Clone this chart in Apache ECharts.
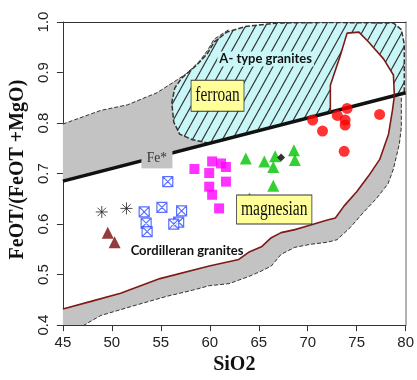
<!DOCTYPE html>
<html>
<head>
<meta charset="utf-8">
<script src="https://cdn.jsdelivr.net/npm/echarts@6/dist/echarts.min.js"></script>
<style>
  html, body { margin: 0; padding: 0; background: #fff; }
  #chart { width: 417px; height: 380px; }
</style>
</head>
<body>
<div id="chart"></div>
<script>
// ---- axes ----
const xTicks = [45, 50, 55, 60, 65, 70, 75, 80];
const yTicks = [0.4, 0.5, 0.6, 0.7, 0.8, 0.9, 1.0];

// ---- field boundaries (SiO2, Fe*) ----
// ferroan / magnesian dividing line
const feStarLine = [[45, 0.685], [80, 0.86]];

// upper edge of the grey band above the Fe* line
const upperBandTop = [[45, 0.798], [48.87, 0.825], [51.59, 0.836], [54.61, 0.860], [56.62, 0.885],
  [57.63, 0.898], [58.93, 0.922], [59.74, 0.943], [60.44, 0.966], [61.95, 0.985]];
const upperBandBase = [[62.5, 0.772], [45, 0.685]];

// A-type granite field
const aTypeField = [[59.94, 0.760], [58.23, 0.767], [56.92, 0.778], [56.32, 0.802], [56.12, 0.840],
  [56.42, 0.869], [57.12, 0.889], [58.63, 0.914], [59.74, 0.937], [60.44, 0.960], [61.74, 0.980],
  [63.66, 0.991], [66.98, 0.998], [72.0, 0.999], [78.75, 0.998], [79.56, 0.985], [79.86, 0.956],
  [79.86, 0.875], [79.86, 0.859], [59.94, 0.760]];

// Cordilleran granite boundary: lower limb and the part above the Fe* line
const cordLower = [[45, 0.432], [47.87, 0.447], [50.89, 0.463], [54.91, 0.492], [59.94, 0.517],
  [62.96, 0.530], [63.96, 0.544], [65.27, 0.555], [66.28, 0.573], [67.28, 0.583], [68.69, 0.589],
  [70.30, 0.598], [72.01, 0.608], [72.82, 0.612], [73.72, 0.636], [75.0, 0.664], [76.2, 0.695],
  [77.35, 0.728], [78.25, 0.778], [78.65, 0.825], [78.85, 0.854]];
const cordUpper = [[78.85, 0.854], [78.75, 0.895], [77.74, 0.927], [76.24, 0.960], [75.23, 0.980],
  [74.02, 0.978], [73.32, 0.933], [72.31, 0.875], [72.31, 0.822]];

// outer (dashed) edge of the grey band below the Cordilleran boundary
const lowerBandEdge = [[79.56, 0.850], [79.56, 0.792], [79.36, 0.759], [78.75, 0.709], [78.2, 0.680],
  [77.04, 0.651], [75.73, 0.624], [74.33, 0.593], [73.0, 0.569], [72.0, 0.564], [70.3, 0.560],
  [68.69, 0.554], [67.28, 0.540], [66.28, 0.517], [65.27, 0.507], [63.96, 0.496], [61.95, 0.482],
  [59.94, 0.478], [58.23, 0.469], [55.61, 0.457], [52.19, 0.438], [48.87, 0.419], [47.16, 0.400]];

// ---- samples (SiO2, Fe*) ----
const redCircles = [[70.50, 0.806], [71.51, 0.784], [73.02, 0.815], [74.02, 0.829], [73.82, 0.806],
  [73.82, 0.796], [73.72, 0.744], [77.34, 0.817]];
const greenTriangles = [[63.68, 0.730], [65.57, 0.724], [66.68, 0.734], [66.48, 0.713], [68.59, 0.746],
  [68.69, 0.727], [66.48, 0.676], [64.06, 0.651]];
const blackDiamonds = [[67.28, 0.732]];
const magentaSquares = [[60.24, 0.724], [61.15, 0.720], [61.65, 0.713], [58.43, 0.709], [59.94, 0.701],
  [61.65, 0.684], [59.94, 0.674], [60.24, 0.658], [60.95, 0.631]];
const blueCrossedSquares = [[55.71, 0.684], [55.11, 0.633], [57.12, 0.626], [53.30, 0.624], [53.50, 0.602],
  [53.60, 0.585], [56.82, 0.604], [56.32, 0.600]];
const asterisks = [[48.97, 0.624], [51.49, 0.631]];
const maroonTriangles = [[49.58, 0.583], [50.28, 0.564]];

// ---- hatch pattern for the A-type field ----
function makeHatch() {
  const w = 10, h = 18;
  const c = document.createElement('canvas');
  c.width = w; c.height = h;
  const g = c.getContext('2d');
  g.fillStyle = '#c9f7f7';
  g.fillRect(0, 0, w, h);
  g.strokeStyle = '#333';
  g.lineWidth = 1.1;
  for (let k = -1; k <= 1; k++) {
    g.beginPath();
    g.moveTo(k * w - w, 2 * h);
    g.lineTo(k * w + 2 * w, -h);
    g.stroke();
  }
  return c;
}
const hatch = { image: makeHatch(), repeat: 'repeat' };

function polygonSeries(points, style, z) {
  return {
    type: 'custom', coordinateSystem: 'cartesian2d', silent: true, clip: true, z: z,
    data: points,
    renderItem: function (params, api) {
      if (params.dataIndex !== 0) return null;
      return { type: 'polygon', shape: { points: points.map(p => api.coord(p)) }, style: style };
    }
  };
}

function lineSeries(points, lineStyle, z) {
  return {
    type: 'line', data: points, symbol: 'none', silent: true, z: z, animation: false,
    lineStyle: lineStyle
  };
}

function scatterSeries(points, symbol, size, itemStyle) {
  return { type: 'scatter', data: points, symbol: symbol, symbolSize: size, z: 10, silent: true, itemStyle: itemStyle };
}

function textSeries(anchor, text, style, scaleX) {
  return {
    type: 'custom', coordinateSystem: 'cartesian2d', silent: true, clip: false, z: 20,
    data: [anchor],
    renderItem: function (params, api) {
      const p = api.coord(anchor);
      return {
        type: 'text', x: p[0], y: p[1], scaleX: scaleX || 1,
        style: Object.assign({ text: text, align: 'center', verticalAlign: 'middle' }, style)
      };
    }
  };
}

const chart = echarts.init(document.getElementById('chart'), null, { renderer: 'canvas' });

const tickFont = { color: '#222', fontFamily: 'Liberation Sans, Arial', fontSize: 15 };
const titleFont = { color: '#111', fontFamily: 'Liberation Serif, Times New Roman', fontSize: 20, fontWeight: 'bold' };

chart.setOption({
  animation: false,
  backgroundColor: '#fff',
  grid: { left: 61, right: 8, top: 22, bottom: 48 },
  xAxis: [{
    type: 'value', min: xTicks[0], max: xTicks[xTicks.length - 1], interval: 5,
    name: 'SiO2', nameLocation: 'middle', nameGap: 29, nameTextStyle: titleFont,
    axisLine: { show: true, lineStyle: { color: '#333', width: 1 } },
    axisTick: { show: true, length: 6, lineStyle: { color: '#333' } },
    axisLabel: Object.assign({ margin: 10 }, tickFont),
    splitLine: { show: false }
  }, {
    type: 'value', position: 'top', min: 45, max: 80,
    axisLine: { show: true, lineStyle: { color: '#333', width: 1.2 } },
    axisTick: { show: false }, axisLabel: { show: false }, splitLine: { show: false }
  }],
  yAxis: [{
    type: 'value', min: yTicks[0], max: yTicks[yTicks.length - 1], interval: 0.1,
    name: 'FeOT/(FeOT +MgO)', nameLocation: 'middle', nameGap: 31, nameRotate: 90,
    nameTextStyle: Object.assign({ padding: [0, 0, 0, 8] }, titleFont),
    axisLine: { show: true, lineStyle: { color: '#333', width: 1 } },
    axisTick: { show: true, length: 6, lineStyle: { color: '#333' } },
    axisLabel: Object.assign({ margin: 12, rotate: 90, formatter: v => v.toFixed(1) }, tickFont),
    splitLine: { show: false }
  }, {
    type: 'value', position: 'right', min: 0.4, max: 1.0,
    axisLine: { show: true, lineStyle: { color: '#999', width: 1.5 } },
    axisTick: { show: false }, axisLabel: { show: false }, splitLine: { show: false }
  }],
  series: [
    // grey bands
    polygonSeries(upperBandTop.concat(upperBandBase), { fill: '#c3c3c3' }, 1),
    polygonSeries(cordLower.concat(lowerBandEdge, [[45, 0.40]]), { fill: '#c3c3c3' }, 1),
    lineSeries(upperBandTop, { color: '#333', width: 1, type: [4, 2] }, 2),
    lineSeries(lowerBandEdge, { color: '#333', width: 1, type: [4, 2] }, 2),
    // A-type granite field
    polygonSeries(aTypeField, { fill: hatch, stroke: '#333', lineWidth: 1.5, lineDash: [5, 2] }, 3),
    // part of the Cordilleran field above the Fe* line
    polygonSeries(cordUpper, { fill: '#ffffff' }, 4),
    // Fe* line
    lineSeries(feStarLine, { color: '#111', width: 3.5 }, 5),
    // Cordilleran boundary
    lineSeries(cordLower.concat(cordUpper.slice(1)), { color: '#801818', width: 1.6 }, 6),
    // samples
    scatterSeries(maroonTriangles, 'triangle', 12, { color: '#7a0a0a' }),
    scatterSeries(asterisks, 'path://M10,0V20M0,10H20M3,3L17,17M17,3L3,17', 12,
      { color: 'rgba(0,0,0,0)', borderColor: '#222', borderWidth: 1 }),
    scatterSeries(blueCrossedSquares, 'path://M1,1H19V19H1ZM1,1L19,19M19,1L1,19', 10,
      { color: 'rgba(255,255,255,0.9)', borderColor: '#2f4cff', borderWidth: 1.2 }),
    scatterSeries(magentaSquares, 'rect', 10, { color: '#ff00ff' }),
    scatterSeries(greenTriangles, 'triangle', 12, { color: '#00c400' }),
    scatterSeries(blackDiamonds, 'diamond', 8, { color: '#000' }),
    scatterSeries(redCircles, 'circle', 11, { color: '#ff0000' }),
    // annotations
    textSeries([54.6, 0.731], 'Fe*', { font: '15px "Liberation Serif", serif', fill: '#333',
      backgroundColor: '#c3c3c3', padding: [3, 6] }, 0.9),
    textSeries([65.7, 0.927], 'A- type granites', { font: 'bold 13px Lato, sans-serif', fill: '#111',
      backgroundColor: '#c9f7f7', padding: [1, 2] }),
    textSeries([60.79, 0.854], 'ferroan', { font: '20px "Liberation Serif", serif', fill: '#111',
      backgroundColor: '#ffff99', borderColor: '#333', borderWidth: 1, padding: [5, 5] }, 0.77),
    textSeries([66.58, 0.629], 'magnesian', { font: '20px "Liberation Serif", serif', fill: '#111',
      backgroundColor: '#ffff99', borderColor: '#333', borderWidth: 1, padding: [4, 5] }, 0.78),
    textSeries([57.68, 0.548], 'Cordilleran granites', { font: 'bold 13px Lato, sans-serif', fill: '#111' })
  ]
});
</script>
</body>
</html>
